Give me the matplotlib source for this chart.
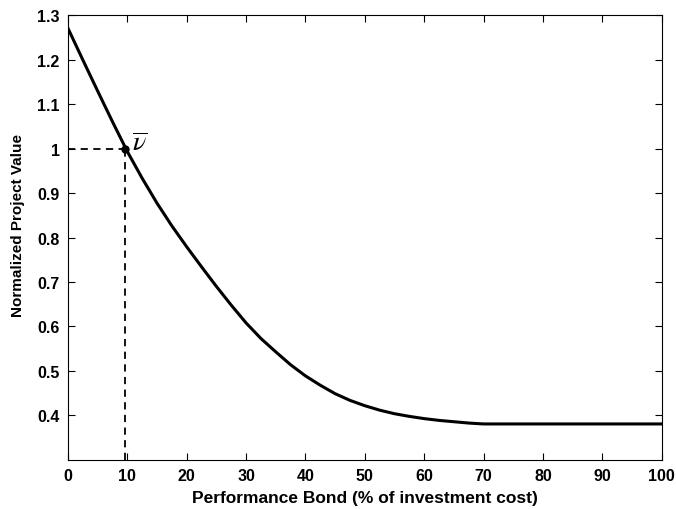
import matplotlib
matplotlib.use("Agg")
import matplotlib.pyplot as plt

bond_pct = [0, 2.5, 5, 7.5, 10, 12.5, 15, 17.5, 20, 22.5, 25, 27.5, 30, 32.5, 35, 37.5,
            40, 42.5, 45, 47.5, 50, 52.5, 55, 57.5, 60, 62.5, 65, 67.5, 70, 75, 80, 85, 90, 95, 100]
project_value = [1.27, 1.199, 1.129, 1.060, 0.993, 0.933, 0.877, 0.826, 0.779, 0.734, 0.690,
                 0.648, 0.608, 0.573, 0.543, 0.514, 0.489, 0.468, 0.449, 0.434, 0.422, 0.412,
                 0.404, 0.398, 0.393, 0.389, 0.386, 0.383, 0.381, 0.381, 0.381, 0.381, 0.381,
                 0.381, 0.381]
v_bar_x = 9.6
v_bar_y = 1.0
x_ticks = list(range(0, 101, 10))
y_ticks = [0.4, 0.5, 0.6, 0.7, 0.8, 0.9, 1.0, 1.1, 1.2, 1.3]
y_tick_labels = ["0.4", "0.5", "0.6", "0.7", "0.8", "0.9", "1", "1.1", "1.2", "1.3"]

plt.rcParams['font.family'] = ['Liberation Sans', 'DejaVu Sans']
plt.rcParams['mathtext.fontset'] = 'stix'

fig = plt.figure(figsize=(6.76, 5.10), dpi=100)
ax = fig.add_axes([0.1006, 0.0961, 0.8781, 0.8725])

ax.plot(bond_pct, project_value, color='black', lw=2.2, solid_joinstyle='round')
ax.plot([0, v_bar_x], [v_bar_y, v_bar_y], color='black', lw=1.3, ls=(0, (4, 3)))
ax.plot([v_bar_x, v_bar_x], [0.3, v_bar_y], color='black', lw=1.3, ls=(0, (4, 3)))
ax.plot([v_bar_x], [v_bar_y], 'o', color='black', ms=5)
ax.text(v_bar_x + 1.2, v_bar_y - 0.004, r'$\overline{\nu}$', fontsize=20, ha='left', va='baseline')

ax.set_xlim(0, 100)
ax.set_ylim(0.3, 1.3)
ax.set_xticks(x_ticks)
ax.set_xticklabels([str(t) for t in x_ticks], fontweight='bold', fontsize=11.5)
ax.set_yticks(y_ticks)
ax.set_yticklabels(y_tick_labels, fontweight='bold', fontsize=11.5)
ax.tick_params(direction='in', length=5, width=0.8, top=True, right=True, pad=6)
for s in ax.spines.values():
    s.set_linewidth(0.8)

ax.set_xlabel('Performance Bond (% of investment cost)', fontweight='bold', fontsize=12.5, labelpad=5)
ax.set_ylabel('Normalized Project Value', fontweight='bold', fontsize=11, labelpad=8)
ax.yaxis.set_label_coords(-0.073, 0.53)

fig.savefig('out.png', dpi=100)
